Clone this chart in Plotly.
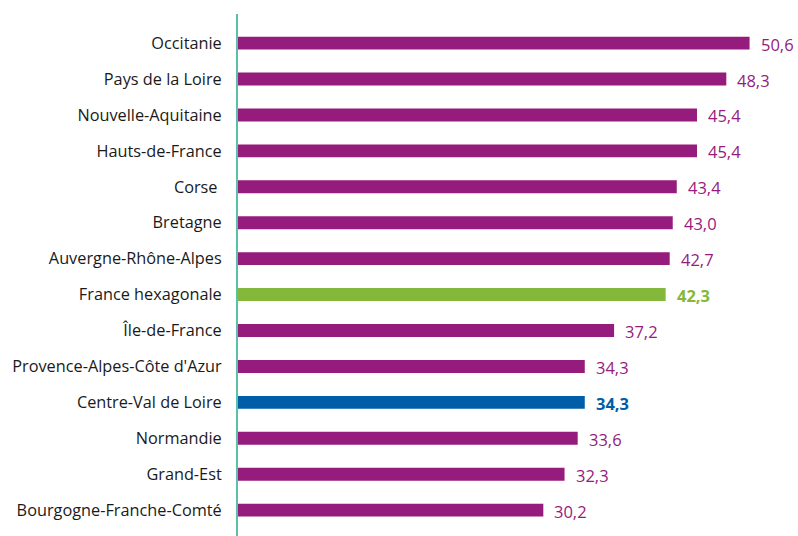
import plotly.graph_objects as go

regions = ["Occitanie", "Pays de la Loire", "Nouvelle-Aquitaine", "Hauts-de-France", "Corse ",
           "Bretagne", "Auvergne-Rhône-Alpes", "France hexagonale", "Île-de-France",
           "Provence-Alpes-Côte d'Azur", "Centre-Val de Loire", "Normandie", "Grand-Est",
           "Bourgogne-Franche-Comté"]
values = [50.6, 48.3, 45.4, 45.4, 43.4, 43.0, 42.7, 42.3, 37.2, 34.3, 34.3, 33.6, 32.3, 30.2]

PURPLE = "#951B7D"
GREEN = "#84B83A"
BLUE = "#005EA8"
special = {"France hexagonale": GREEN, "Centre-Val de Loire": BLUE}
colors = [special.get(r, PURPLE) for r in regions]

FONT = "Open Sans, Noto Sans, sans-serif"

fig = go.Figure(go.Bar(
    x=values, y=regions, orientation="h",
    marker=dict(color=colors, line=dict(width=0)),
    width=0.36, hoverinfo="skip",
))

for r, v, c in zip(regions, values, colors):
    bold = r in special
    txt = f"{v:.1f}".replace(".", ",")
    fig.add_annotation(
        x=v, y=r, text=f"<b>{txt}</b>" if bold else txt,
        xanchor="left", yanchor="middle", xshift=9, yshift=-1, showarrow=False,
        font=dict(family=FONT, size=16.5, color=c),
    )

fig.update_layout(
    width=798, height=536,
    margin=dict(l=238, r=8, t=14, b=0),
    paper_bgcolor="white", plot_bgcolor="white",
    showlegend=False,
    xaxis=dict(range=[0, 54.6], visible=False, fixedrange=True),
    yaxis=dict(
        range=[13.72, -0.81], showgrid=False, zeroline=False,
        showline=True, linecolor="#5BC0A8", linewidth=2,
        ticks="", ticklabelstandoff=11, fixedrange=True,
        tickfont=dict(family=FONT, size=16.3, color="#1A1A1A"),
    ),
)

fig.write_html("out.html", config={"displayModeBar": False},
               post_script="document.body.style.margin='0';")
